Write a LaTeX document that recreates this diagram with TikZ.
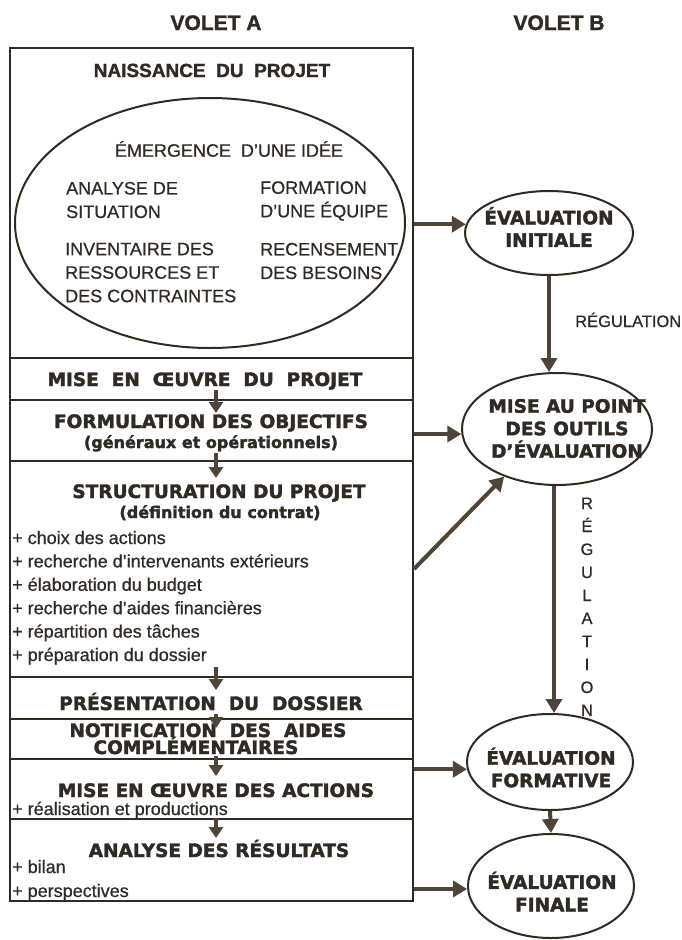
\documentclass[tikz,border=0pt]{standalone}
\usepackage{fontspec}
\setmainfont{Liberation Sans}[UprightFeatures={FakeBold=0.6}, BoldFeatures={FakeBold=1.5}]
\newfontfamily\lourde{DejaVu Sans}[BoldFeatures={FakeBold=2}]
\usetikzlibrary{shapes.geometric,arrows.meta}

\definecolor{encre}{RGB}{48,42,36}
\definecolor{trait}{RGB}{78,68,58}

\tikzset{
  sect/.style={draw=encre, line width=2pt, minimum width=403pt, inner sep=0},
  ovale/.style={draw=encre, ellipse, line width=2pt, inner sep=0},
  titre/.style={font=\lourde\bfseries\fontsize{18.5}{22}\selectfont, text=encre, anchor=base, inner sep=0},
  sous/.style={font=\lourde\bfseries\fontsize{16}{20}\selectfont, text=encre, anchor=base, inner sep=0},
  puce/.style={font=\fontsize{18}{22}\selectfont, text=encre, anchor=base west, inner sep=0},
  bloc/.style={font=\fontsize{18}{23.5}\selectfont, text=encre, align=left, anchor=west, inner sep=0},
  volet/.style={font=\bfseries\fontsize{21}{24}\selectfont, text=encre, anchor=base, inner sep=0},
  evaltxt/.style={font=\lourde\bfseries\fontsize{18.5}{22.5}\selectfont, text=encre, align=center, inner sep=0},
  regul/.style={font=\fontsize{16.5}{20}\selectfont, text=encre, anchor=base, inner sep=0},
  fleche/.style={draw=trait, line width=4pt, -{Triangle[length=14pt,width=16pt]}},
  petite/.style={draw=trait, line width=3.5pt, -{Triangle[length=11pt,width=14pt]}},
}

\begin{document}
\begin{tikzpicture}[x=1pt, y=-1pt]
  \fill[white] (0,0) rectangle (682,940);

  % en-tetes
  \node[volet] (voletA) at (216,30) {VOLET A};
  \node[volet] (voletB) at (559,30) {VOLET B};

  % volet A : les cases
  \foreach \nom/\cy/\h in {naiss/203/310, mise/379/42, form/430.5/61, struct/569/216,
                           pres/698/42, notif/739/40, actions/789/60, analyse/860/82}
    \node[sect, minimum height=\h pt] (\nom) at (211.5,\cy) {};

  % naissance du projet
  \node[volet, font=\bfseries\fontsize{19}{24}\selectfont] (naissT) at (212,77) {NAISSANCE~~DU~~PROJET};
  \node[ovale, minimum width=390pt, minimum height=250pt] (idee) at (210,223) {};
  \node[bloc, anchor=center] (emerg) at (229,149) {ÉMERGENCE~~D’UNE IDÉE};
  \node[bloc] (analyseS) at (66,200) {ANALYSE DE\\SITUATION};
  \node[bloc] (equipe) at (260,201) {FORMATION\\D’UNE ÉQUIPE};
  \node[bloc] (invent) at (65,272.5) {INVENTAIRE DES\\RESSOURCES ET\\DES CONTRAINTES};
  \node[bloc] (besoins) at (260,261) {RECENSEMENT\\DES BESOINS};

  % les etapes
  \node[titre] (miseT) at (205,386) {MISE~ EN~ ŒUVRE~ DU~ PROJET};
  \node[titre] (formT) at (211,428) {FORMULATION DES OBJECTIFS};
  \node[sous] (formS) at (211,448) {(généraux et opérationnels)};
  \node[titre] (structT) at (219,498) {STRUCTURATION DU PROJET};
  \node[sous] (structS) at (220,518) {(définition du contrat)};
  \foreach \t [count=\i] in {choix des actions, recherche d’intervenants extérieurs,
      élaboration du budget, recherche d’aides financières,
      répartition des tâches, préparation du dossier}
    \node[puce] (choix\i) at (12,544+23.4*\i-23.4) {+ \t};
  \node[titre] (presT) at (211,710) {PRÉSENTATION~ DU~ DOSSIER};
  \node[titre] (notifT) at (208,737) {NOTIFICATION~ DES~ AIDES};
  \node[titre] (notifS) at (196,754) {COMPLÉMENTAIRES};
  \node[titre] (actionsT) at (216,797) {MISE EN ŒUVRE DES ACTIONS};
  \node[puce] (real) at (12,815) {+ réalisation et productions};
  \node[titre] (analyseT) at (219,857) {ANALYSE DES RÉSULTATS};
  \node[puce] (bilan) at (12,873) {+ bilan};
  \node[puce] (persp) at (12,897) {+ perspectives};

  % fleches internes
  \foreach \s/\a/\b in {mise/11/12, form/9/16, struct/11/12, pres/6/8, notif/4/16, actions/2/18}
    \draw[petite] ([xshift=4.5pt,yshift=\a pt]\s.south) -- ([xshift=4.5pt,yshift=-\b pt]\s.south);

  % volet B : les evaluations
  \node[ovale, minimum width=168pt, minimum height=84pt] (ini) at (549,233) {};
  \node[evaltxt] (iniT) at (549,227) {ÉVALUATION\\INITIALE};
  \node[ovale, minimum width=190pt, minimum height=112pt] (outils) at (557,429) {};
  \node[evaltxt] (outilsT) at (567,428.5) {MISE AU POINT\\DES OUTILS\\D’ÉVALUATION};
  \node[ovale, minimum width=166pt, minimum height=96pt] (fmt) at (550,762) {};
  \node[evaltxt] (fmtT) at (551,767.5) {ÉVALUATION\\FORMATIVE};
  \node[ovale, minimum width=166pt, minimum height=104pt] (fin) at (551,886) {};
  \node[evaltxt] (finT) at (552,891.5) {ÉVALUATION\\FINALE};

  \node[regul, anchor=base west] (reg) at (575,327) {RÉGULATION};
  \foreach \l [count=\i] in {R,É,G,U,L,A,T,I,O,N}
    \node[regul] (reg\i) at (587,509+23*\i-23) {\l};

  % liaisons
  \draw[fleche] (naiss.east |- ini.174) -- (ini.174);
  \draw[fleche] (form.east |- outils.183) -- (outils.183);
  \draw[fleche] (struct.east) -- (outils.222);
  \draw[fleche] (actions.east |- fmt.185) -- (fmt.185);
  \draw[fleche] (analyse.east |- fin.182) -- (fin.182);
  \draw[fleche] (ini.south) -- (ini.south |- outils.north);
  \draw[fleche] ([xshift=-3pt]outils.south) -- ([xshift=-3pt]outils.south |- fmt.north);
  \draw[fleche] (fmt.south) -- (fin.north);
\end{tikzpicture}
\end{document}
